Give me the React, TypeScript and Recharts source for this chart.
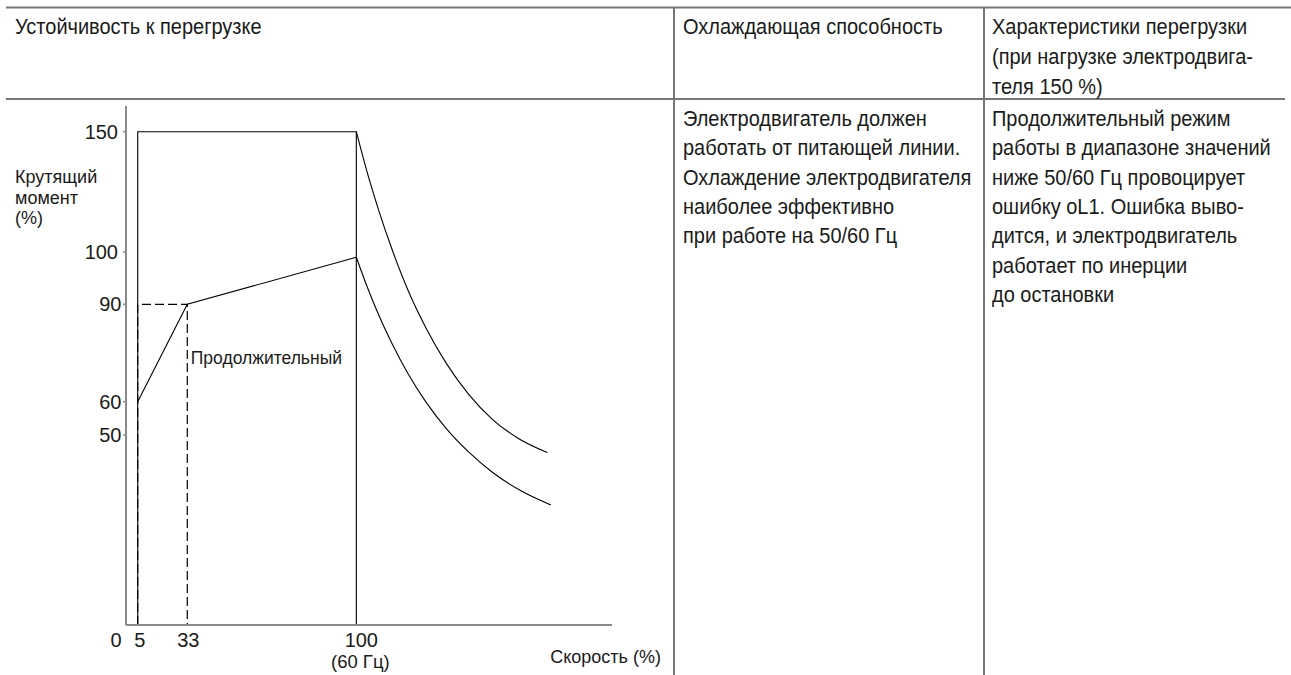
import React from 'react';
import { LineChart, Line, XAxis, YAxis, ReferenceDot } from 'recharts';

// ---------- data (speed in %, torque in %) ----------
const speedTicks = [0, 5, 33, 100];
const torqueTicks = [50, 60, 90, 100, 150];

const overloadSpeed = [5, 5, 100, 100];
const overloadTorque = [0, 150, 150, 0];

const continuousSpeed = [5, 33, 100];
const continuousTorque = [60, 90, 99];

const continuousBoxSpeed = [5, 5, 33, 33, 5];
const continuousBoxTorque = [0, 90, 90, 0, 0];

const upperCurveSpeed = [100, 103.9, 108.6, 114.1, 120.3, 127.4, 135.2, 143.8, 153.2, 163.4, 174.7];
const upperCurveTorque = [150, 134.4, 117.8, 100.7, 92.6, 82.5, 71.8, 62.4, 54.7, 49.1, 45.4];

const lowerCurveSpeed = [100, 103.9, 108.6, 114.1, 120.3, 127.4, 135.2, 143.8, 153.2, 164.2, 176.1];
const lowerCurveTorque = [99, 93.8, 87.0, 77.7, 68.5, 59.7, 51.9, 45.6, 40.2, 35.4, 31.6];

const continuousLabel = 'Продолжительный';
const continuousLabelSpeed = 33;
const continuousLabelTorque = 73.6;

const headerCol1 = ['Устойчивость к перегрузке'];
const headerCol2 = ['Охлаждающая способность'];
const headerCol3 = ['Характеристики перегрузки', '(при нагрузке электродвига-', 'теля 150 %)'];
const bodyCol2 = [
  'Электродвигатель должен',
  'работать от питающей линии.',
  'Охлаждение электродвигателя',
  'наиболее эффективно',
  'при работе на 50/60 Гц',
];
const bodyCol3 = [
  'Продолжительный режим',
  'работы в диапазоне значений',
  'ниже 50/60 Гц провоцирует',
  'ошибку oL1. Ошибка выво-',
  'дится, и электродвигатель',
  'работает по инерции',
  'до остановки',
];
const yTitle = ['Крутящий', 'момент', '(%)'];
const xTitle = 'Скорость (%)';
const freqNote = '(60 Гц)';

// ---------- schematic (broken) axis definitions ----------
const xScaleStops = [0, 5, 33, 100, 200];
const xScaleFracs = [0, 0.0241, 0.1261, 0.4739, 1];
const yScaleStops = [0, 50, 60, 90, 100, 150, 160];
const yScaleFracs = [0, 0.3661, 0.4303, 0.6179, 0.7187, 0.9505, 1];

function makeBrokenScale(stops: number[], fracs: number[]): any {
  let dom: number[] = [stops[0], stops[stops.length - 1]];
  let rng: number[] = [0, 1];
  const scale: any = (v: number) => {
    if (v == null || Number.isNaN(+v)) return NaN;
    let i = 0;
    while (i < stops.length - 2 && v > stops[i + 1]) i++;
    const t = (v - stops[i]) / (stops[i + 1] - stops[i]);
    const f = fracs[i] + t * (fracs[i + 1] - fracs[i]);
    return rng[0] + f * (rng[1] - rng[0]);
  };
  scale.domain = (d?: number[]) => {
    if (d === undefined) return dom.slice();
    dom = d.slice();
    return scale;
  };
  scale.range = (r?: number[]) => {
    if (r === undefined) return rng.slice();
    rng = r.slice();
    return scale;
  };
  scale.copy = () => makeBrokenScale(stops, fracs).domain(dom).range(rng);
  scale.ticks = () => stops.slice();
  scale.tickFormat = () => (v: any) => String(v);
  scale.nice = () => scale;
  scale.clamp = () => scale;
  scale.invert = (px: number) => {
    const f = (px - rng[0]) / (rng[1] - rng[0]);
    let i = 0;
    while (i < fracs.length - 2 && f > fracs[i + 1]) i++;
    const t = (f - fracs[i]) / (fracs[i + 1] - fracs[i]);
    return stops[i] + t * (stops[i + 1] - stops[i]);
  };
  return scale;
}

const xScale = makeBrokenScale(xScaleStops, xScaleFracs);
const yScale = makeBrokenScale(yScaleStops, yScaleFracs);

type Pt = { speed: number; torque: number };
const zip = (xs: number[], ys: number[]): Pt[] => xs.map((s, i) => ({ speed: s, torque: ys[i] }));

const overloadData = zip(overloadSpeed, overloadTorque);
const continuousData = zip(continuousSpeed, continuousTorque);
const continuousBoxData = zip(continuousBoxSpeed, continuousBoxTorque);
const upperCurveData = zip(upperCurveSpeed, upperCurveTorque);
const lowerCurveData = zip(lowerCurveSpeed, lowerCurveTorque);

// ---------- styles ----------
const FONT = '"Liberation Sans", Arial, sans-serif';
const TEXT = '#1a1a1a';
const GRID = '#767676';
const AXIS = '#8a8a8a';
const CONDENSE = 0.93;

const xTickShift: Record<number, number> = { 0: -10, 5: 2, 33: 1, 100: 5 };

const SpeedTick = (props: any) => {
  const { x, y, payload } = props;
  const v = payload.value;
  return (
    <g>
      <text x={x + (xTickShift[v] || 0)} y={y + 22} textAnchor="middle" fontSize={20} fill={TEXT} fontFamily={FONT}>
        {v}
      </text>
      {v === 100 && (
        <text x={x + 4} y={y + 43} textAnchor="middle" fontSize={18.5} fill={TEXT} fontFamily={FONT}>
          {freqNote}
        </text>
      )}
    </g>
  );
};

const TorqueTick = (props: any) => {
  const { x, y, payload } = props;
  const v = payload.value;
  return (
    <text x={x + (v < 100 ? 3.5 : 0)} y={y} dy="0.355em" textAnchor="end" fontSize={20} fill={TEXT} fontFamily={FONT}>
      {v}
    </text>
  );
};

const YTitle = (props: any) => {
  const vb = props.viewBox || { x: 0, y: 106 };
  return (
    <text x={vb.x + 15} y={vb.y + 77} fontSize={18} fill={TEXT} fontFamily={FONT}>
      {yTitle.map((t, i) => (
        <tspan key={i} x={vb.x + 15} y={vb.y + 77 + i * 20.5}>
          {t}
        </tspan>
      ))}
    </text>
  );
};

const XTitle = (props: any) => {
  const vb = props.viewBox || { x: 126, y: 625, width: 486 };
  return (
    <text x={vb.x + vb.width + 49} y={vb.y + 37.5} textAnchor="end" fontSize={18} fill={TEXT} fontFamily={FONT}>
      {xTitle}
    </text>
  );
};

const Lines = ({ x, baseline, lines, step }: { x: number; baseline: number; lines: string[]; step: number }) => (
  <g transform={`scale(${CONDENSE} 1)`}>
    {lines.map((t, i) => (
      <text key={i} x={x / CONDENSE} y={baseline + i * step} fontSize={21.5} fill={TEXT} fontFamily={FONT}>
        {t}
      </text>
    ))}
  </g>
);

export default function App() {
  return (
    <div style={{ position: 'absolute', left: 0, top: 0, width: 1291, height: 675, background: '#fff', overflow: 'hidden' }}>
      <svg width={1291} height={675} style={{ position: 'absolute', left: 0, top: 0 }}>
        <line x1={6} y1={7.5} x2={1291} y2={7.5} stroke={GRID} strokeWidth={2} />
        <line x1={6} y1={99} x2={1285} y2={99} stroke={GRID} strokeWidth={2} />
        <line x1={674} y1={7.5} x2={674} y2={675} stroke={GRID} strokeWidth={2} />
        <line x1={984} y1={7.5} x2={984} y2={675} stroke={GRID} strokeWidth={2} />
        <Lines x={15} baseline={34.3} lines={headerCol1} step={29.7} />
        <Lines x={683} baseline={34.3} lines={headerCol2} step={29.7} />
        <Lines x={992} baseline={34.3} lines={headerCol3} step={29.7} />
        <Lines x={683} baseline={126} lines={bodyCol2} step={29.33} />
        <Lines x={992} baseline={126} lines={bodyCol3} step={29.33} />
      </svg>
      <div style={{ position: 'absolute', left: 0, top: 0 }}>
        <LineChart width={674} height={675} margin={{ top: 106, right: 62, bottom: 0, left: 0 }}>
          <XAxis
            dataKey="speed"
            type="number"
            scale={xScale}
            domain={[0, 200]}
            ticks={speedTicks}
            interval={0}
            tickLine={false}
            tickSize={0}
            tickMargin={0}
            height={50}
            axisLine={{ stroke: AXIS, strokeWidth: 2 }}
            tick={<SpeedTick />}
            allowDataOverflow
            label={{ content: (p: any) => <XTitle {...p} /> }}
          />
          <YAxis
            dataKey="torque"
            type="number"
            scale={yScale}
            domain={[0, 160]}
            ticks={torqueTicks}
            interval={0}
            width={126}
            tickSize={3}
            tickMargin={5}
            tickLine={{ stroke: AXIS, strokeWidth: 1.5 }}
            axisLine={{ stroke: AXIS, strokeWidth: 2 }}
            tick={<TorqueTick />}
            allowDataOverflow
            label={{ content: (p: any) => <YTitle {...p} /> }}
          />
          <Line data={continuousBoxData} dataKey="torque" type="linear" stroke="#000" strokeWidth={1.2} strokeDasharray="9 4" dot={false} isAnimationActive={false} />
          <Line data={overloadData} dataKey="torque" type="linear" stroke="#000" strokeWidth={1.1} dot={false} isAnimationActive={false} />
          <Line data={continuousData} dataKey="torque" type="linear" stroke="#000" strokeWidth={1.1} dot={false} isAnimationActive={false} />
          <Line data={upperCurveData} dataKey="torque" type="monotone" stroke="#000" strokeWidth={1.1} dot={false} isAnimationActive={false} />
          <Line data={lowerCurveData} dataKey="torque" type="monotone" stroke="#000" strokeWidth={1.1} dot={false} isAnimationActive={false} />
          <ReferenceDot
            x={continuousLabelSpeed}
            y={continuousLabelTorque}
            r={0.5}
            fill="none"
            stroke="none"
            label={{ value: continuousLabel, position: 'right', offset: 3, fontSize: 17.5, fill: TEXT, fontFamily: FONT }}
          />
        </LineChart>
      </div>
    </div>
  );
}
